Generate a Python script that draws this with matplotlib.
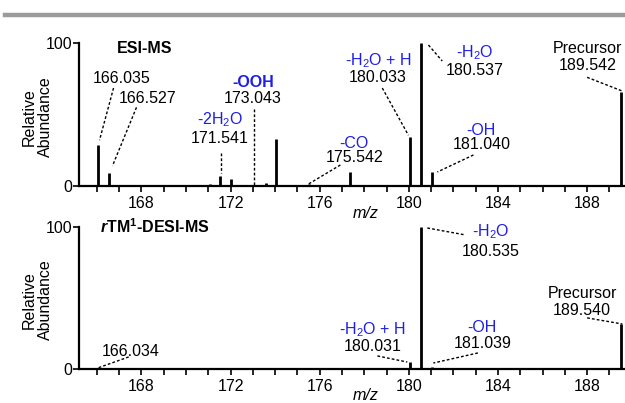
import numpy as np
import matplotlib
matplotlib.use("Agg")
import matplotlib.pyplot as plt
from matplotlib.lines import Line2D
from matplotlib.ticker import MultipleLocator

plt.rcParams['font.family'] = ['Liberation Sans', 'DejaVu Sans']
plt.rcParams['mathtext.fontset'] = 'custom'
plt.rcParams['mathtext.rm'] = 'Liberation Sans'
plt.rcParams['mathtext.it'] = 'Liberation Sans:italic'
plt.rcParams['mathtext.bf'] = 'Liberation Sans:bold'
plt.rcParams['mathtext.bfit'] = 'Liberation Sans:italic:bold'

# ESI-MS spectrum (m/z, relative abundance)
esi_mz = [166.035, 166.527, 167.02, 171.10, 171.541, 172.04, 173.043, 173.57,
          174.06, 175.542, 177.38, 180.033, 180.537, 181.040, 189.542]
esi_ab = [29, 9, 1, 1.5, 7, 5, 0.5, 2, 33, 1.5, 10, 34, 100, 10, 66]

# rTM1-DESI-MS spectrum
desi_mz = [166.034, 175.55, 178.6, 180.031, 180.535, 181.039, 189.540]
desi_ab = [1, 0.5, 0.5, 5, 100, 1.5, 32]

BLUE = '#1e1ee6'

# annotations: (name, name colour, bold, number, text x, name y, number y, leader start, leader end)
esi_notes = [
    (None, None, False, '166.035', 167.10, None, 75.5, (166.75, 68.5), (166.12, 32)),
    (None, None, False, '166.527', 168.28, None, 61.5, (167.78, 55), (166.70, 14)),
    ('-2H$_2$O', BLUE, False, '171.541', 171.52, 46.5, 33.5, (171.58, 23), (171.58, 9)),
    ('-OOH', BLUE, True, '173.043', 173.00, 72.7, 61.5, (173.06, 54), (173.06, 0)),
    ('-CO', BLUE, False, '175.542', 177.55, 29.5, 19.6, (176.93, 14.7), (175.50, 1.4)),
    ('-H$_2$O + H', BLUE, False, '180.033', 178.62, 87.5, 76, (178.81, 68.5), (179.98, 35.5)),
    ('-H$_2$O', BLUE, False, '180.537', 182.95, 93.5, 81, (180.88, 98.6), (181.50, 87.4)),
    ('-OH', BLUE, False, '181.040', 183.25, 39, 28.7, (182.90, 21.7), (181.28, 9.8)),
    ('Precursor', 'black', False, '189.542', 188.02, 96.5, 84.6, (188.00, 76), (189.58, 66.4)),
]
desi_notes = [
    (None, None, False, '166.034', 167.50, None, 12, (167.43, 8.5), (166.04, 0.7)),
    ('-H$_2$O + H', BLUE, False, '180.031', 178.38, 28, 15.5, (178.59, 9.2), (179.93, 4.9)),
    ('-H$_2$O', BLUE, False, '180.535', 183.68, 96.5, 82.4, (180.83, 99.3), (182.54, 94.4)),
    ('-OH', BLUE, False, '181.039', 183.30, 29, 18.3, (183.10, 11.3), (181.10, 4.2)),
    ('Precursor', 'black', False, '189.540', 187.78, 53.5, 41.5, (188.00, 36), (189.58, 31.7)),
]

fig = plt.figure(figsize=(6.25, 4.03), dpi=100)
ax1 = fig.add_axes([79 / 625, 1 - 186 / 403, 546 / 625, 143 / 403])
ax2 = fig.add_axes([79 / 625, 1 - 369 / 403, 546 / 625, 142 / 403])

# grey rule across the top
fig.add_artist(Line2D([5 / 625, 1.0], [1 - 15 / 403] * 2, color='#9b9b9b', lw=3.2))


def draw(ax, mz, ab, notes, title):
    ax.vlines(mz, 0, ab, color='black', lw=2.0, clip_on=False)
    ax.set_xlim(165.2, 189.7)
    ax.set_ylim(0, 100)
    for s in ['top', 'right']:
        ax.spines[s].set_visible(False)
    for s in ['left', 'bottom']:
        ax.spines[s].set_linewidth(1.6)
    ax.set_yticks([0, 100])
    ax.set_xticks(np.arange(168, 189, 4))
    ax.xaxis.set_minor_locator(MultipleLocator(1))
    ax.tick_params(axis='both', which='both', direction='out', width=1.2, labelsize=11.5)
    ax.tick_params(axis='x', which='major', length=4, pad=3)
    ax.tick_params(axis='x', which='minor', length=4)
    ax.tick_params(axis='y', length=4, pad=1)
    ax.text(title[0], title[1], title[2], fontsize=11.5, fontweight='bold',
            ha='left', va='center')
    for name, col, bold, num, tx, ny, vy, p0, p1 in notes:
        if name is not None:
            ax.text(tx, ny, name, color=col, fontsize=11.5,
                    fontweight='bold' if bold else 'normal', ha='center', va='center')
        ax.text(tx, vy, num, color='black', fontsize=11.5, ha='center', va='center')
        ax.plot([p0[0], p1[0]], [p0[1], p1[1]], color='black', lw=1.0,
                ls=(0, (2, 1.5)), clip_on=False)


draw(ax1, esi_mz, esi_ab, esi_notes, (166.9, 96.5, 'ESI-MS'))
draw(ax2, desi_mz, desi_ab, desi_notes,
     (166.15, 100, r'$\mathbfit{r}$TM$^{\mathbf{1}}$-DESI-MS'))

for yc in [1 - 117 / 403, 1 - 300 / 403]:
    fig.text(37 / 625, yc, 'Relative\nAbundance', rotation=90, fontsize=11.5,
             ha='center', va='center', multialignment='center', linespacing=1.1)

fig.text(366 / 625, 1 - 213 / 403, 'm/z', style='italic', fontsize=11.5,
         ha='center', va='center')
fig.text(366 / 625, 1 - 396 / 403, 'm/z', style='italic', fontsize=11.5,
         ha='center', va='center')

fig.savefig('out.png', dpi=100)
